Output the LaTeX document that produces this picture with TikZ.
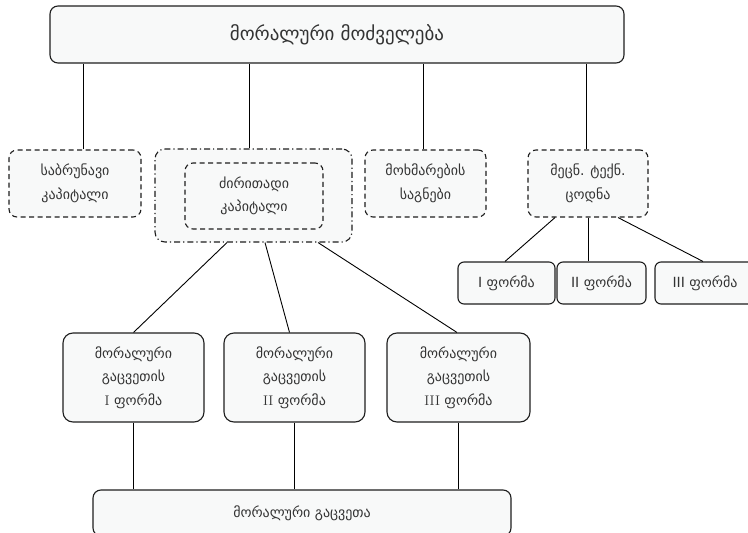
\documentclass[tikz,border=0pt]{standalone}
\usepackage{fontspec}
\newfontfamily\geofont{DejaVu Sans}
\usepackage{xcolor}
\usepackage{tikz}
\usetikzlibrary{positioning}
\definecolor{boxfill}{HTML}{F8F9F9}
\definecolor{boxline}{HTML}{1E1E1E}
\tikzset{
    topbox/.style={rectangle, rounded corners=8pt, draw=boxline, line width=1.1pt, fill=boxfill, minimum height=57pt, inner sep=0pt},
    dashbox/.style={rectangle, rounded corners=8pt, draw=boxline, line width=1.1pt, dash pattern=on 5pt off 3.5pt, fill=boxfill, minimum height=67pt, inner sep=0pt, align=center},
    groupbox/.style={rectangle, rounded corners=10pt, draw=boxline, line width=1.1pt, dash pattern=on 6pt off 3pt on 1.2pt off 3pt, fill=boxfill, inner sep=0pt},
    formbox/.style={rectangle, rounded corners=6pt, draw=boxline, line width=1.1pt, fill=boxfill, minimum height=42pt, inner sep=0pt},
    lossbox/.style={rectangle, rounded corners=10pt, draw=boxline, line width=1.1pt, fill=boxfill, minimum width=141pt, minimum height=89pt, inner sep=0pt, align=center},
    link/.style={line width=0.9pt, black}
}

\begin{document}
\begin{tikzpicture}[x=1pt, y=-1pt, every node/.style={font=\geofont\fontsize{14}{23.5}\selectfont, text=black!80}]
            \clip (0,0) rectangle (748,533);
            \node (top) [topbox, minimum width=574pt, font=\geofont\fontsize{19}{23}\selectfont] at (337,34.5) {მორალური მოძველება};

            \node (sabr) [dashbox, minimum width=132pt] at (75,183.5) {საბრუნავი\\კაპიტალი};
            \node (grp) [groupbox, minimum width=197pt, minimum height=93pt] at (253.5,195.5) {};
            \node (dziri) [dashbox, minimum width=138pt, minimum height=66pt] at (254,196) {ძირითადი\\კაპიტალი};
            \node (moxm) [dashbox, minimum width=121pt] at (425.5,183.5) {მოხმარების\\საგნები};
            \node (mecn) [dashbox, minimum width=120pt] at (588,183.5) {მეცნ. ტექნ.\\ცოდნა};

            \node (f1) [formbox, minimum width=97pt] at (506.5,283) {I ფორმა};
            \node (f2) [formbox, minimum width=89pt] at (601.5,283) {II ფორმა};
            \node (f3) [formbox, minimum width=100pt] at (705,283) {III ფორმა};

            \node (g1) [lossbox] at (133.5,377.5) {მორალური\\გაცვეთის\\\textrm{I} ფორმა};
            \node (g2) [lossbox] at (294.5,377.5) {მორალური\\გაცვეთის\\\textrm{II} ფორმა};
            \node (g3) [lossbox, minimum width=143pt] at (458.5,377.5) {მორალური\\გაცვეთის\\\textrm{III} ფორმა};

            \node (bot) [topbox, minimum width=418pt, minimum height=46pt] at (302,513) {მორალური გაცვეთა};

            % top level to the four kinds
            \draw[link] ([xshift=8]sabr.north) -- ([xshift=8]sabr.north |- top.south);
            \draw[link] ([xshift=-4.5]grp.north) -- ([xshift=-4.5]grp.north |- top.south);
            \draw[link] ([xshift=-2.5]moxm.north) -- ([xshift=-2.5]moxm.north |- top.south);
            \draw[link] ([xshift=-2]mecn.north) -- ([xshift=-2]mecn.north |- top.south);

            % knowledge forms
            \draw[link] ([xshift=-33]mecn.south) -- ([xshift=-1.5]f1.north);
            \draw[link] (mecn.south) -- (mecn.south |- f2.north);
            \draw[link] ([xshift=30]mecn.south) -- ([xshift=-2]f3.north);

            % fixed capital to forms of wear
            \draw[link] ([xshift=-26.5]grp.south) -- (g1.north);
            \draw[link] ([xshift=11.5]grp.south) -- ([xshift=-5]g2.north);
            \draw[link] ([xshift=64.5]grp.south) -- ([xshift=-1.5]g3.north);

            \draw[link] (g1.south) -- (g1.south |- bot.north);
            \draw[link] (g2.south) -- (g2.south |- bot.north);
            \draw[link] (g3.south) -- (g3.south |- bot.north);
        \end{tikzpicture}
\end{document}
